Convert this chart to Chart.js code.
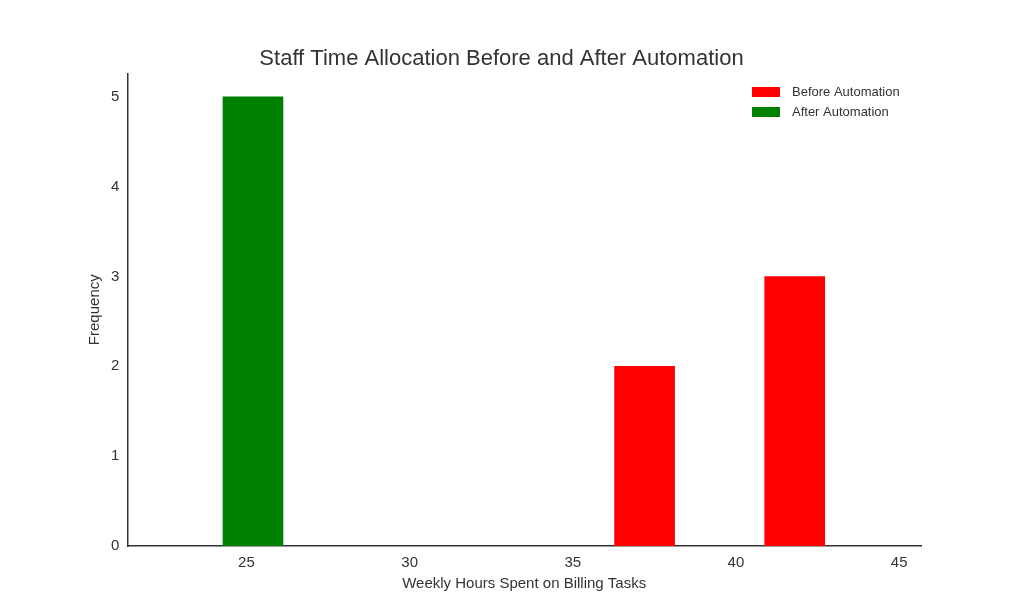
<!DOCTYPE html>
<html>
<head>
<meta charset="utf-8">
<script src="https://cdn.jsdelivr.net/npm/chart.js@4"></script>
<style>body{margin:0;background:#fff}</style>
</head>
<body>
<canvas id="chart" width="1024" height="614"></canvas>
<script>
const series = ["Before Automation", "After Automation"];
const beforeHours = [37.2, 41.8];
const beforeCounts = [2, 3];
const afterHours = [25.2];
const afterCounts = [5];
const xTicks = [25, 30, 35, 40, 45];

const legendBox = {
  id: "legendBox",
  afterDraw(chart) {
    const c = chart.ctx;
    c.save();
    c.font = "13px 'Liberation Sans', Arial";
    c.textBaseline = "middle";
    chart.data.datasets.forEach((ds, i) => {
      const y = 92 + i * 20;
      c.fillStyle = ds.backgroundColor;
      c.fillRect(752, y - 5, 28, 10);
      c.fillStyle = "#333";
      c.fillText(ds.label, 792, y);
    });
    c.restore();
  }
};

new Chart(document.getElementById("chart"), {
  type: "bar",
  data: {
    datasets: [
      {
        label: series[0],
        data: beforeHours.map((x, i) => ({ x: x, y: beforeCounts[i] })),
        backgroundColor: "#ff0000",
        barThickness: 60,
        grouped: false
      },
      {
        label: series[1],
        data: afterHours.map((x, i) => ({ x: x, y: afterCounts[i] })),
        backgroundColor: "#008000",
        barThickness: 60,
        grouped: false
      }
    ]
  },
  options: {
    responsive: false,
    animation: false,
    layout: { padding: { left: 82, right: 103, top: 10, bottom: 21 } },
    plugins: {
      legend: { display: false },
      tooltip: { enabled: false },
      title: {
        display: true,
        text: "Staff Time Allocation Before and After Automation",
        color: "#333",
        font: { size: 22, family: "'Liberation Sans', Arial", weight: "normal" },
        padding: { top: 36, bottom: 1 }
      }
    },
    scales: {
      x: {
        type: "linear",
        offset: false,
        min: 21.35,
        max: 45.67,
        afterBuildTicks: (axis) => { axis.ticks = xTicks.map(v => ({ value: v })); },
        grid: { display: false, drawTicks: true, tickLength: 5, color: "#333", offset: false },
        border: { color: "#333", width: 1.5 },
        ticks: { color: "#333", font: { size: 15, family: "'Liberation Sans', Arial" } },
        title: { display: true, text: "Weekly Hours Spent on Billing Tasks", color: "#333",
                 font: { size: 15, family: "'Liberation Sans', Arial" }, padding: 0 }
      },
      y: {
        min: 0,
        max: 5.26,
        afterBuildTicks: (axis) => { axis.ticks = [0,1,2,3,4,5].map(v => ({ value: v })); },
        grid: { display: false, tickLength: 5 },
        border: { color: "#333", width: 1.5 },
        ticks: { color: "#333", font: { size: 15, family: "'Liberation Sans', Arial" } },
        title: { display: true, text: "Frequency", color: "#333",
                 font: { size: 15, family: "'Liberation Sans', Arial" } }
      }
    }
  },
  plugins: [legendBox]
});
</script>
</body>
</html>
